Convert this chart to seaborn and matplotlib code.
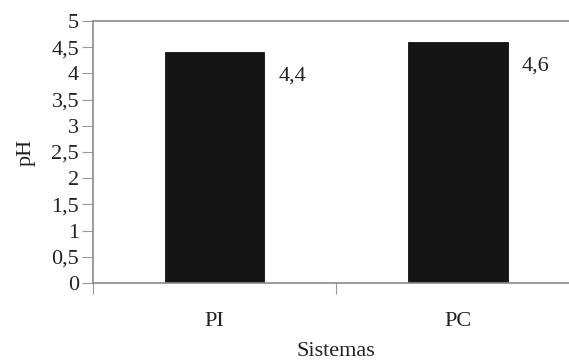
import matplotlib
matplotlib.use("Agg")
import matplotlib.pyplot as plt
import seaborn as sns
import numpy as np
import pandas as pd

sistemas = ["PI", "PC"]
ph = [4.4, 4.6]
yticks = [0, 0.5, 1, 1.5, 2, 2.5, 3, 3.5, 4, 4.5, 5]

sns.set_style("white")
plt.rcParams["font.family"] = ["Liberation Serif", "DejaVu Serif"]

FS = 16
TXT = "#222222"

fig = plt.figure(figsize=(5.69, 3.64), dpi=100)
ax = fig.add_axes([93 / 569, 1 - 283 / 364, 486.5 / 569, 262 / 364])

df = pd.DataFrame({"Sistemas": sistemas, "pH": ph})
sns.barplot(data=df, x="Sistemas", y="pH", color="#151515", saturation=1,
            width=0.41, edgecolor="#101010", linewidth=0.6, ax=ax)

ax.set_xlim(-0.5, 1.5)
ax.set_ylim(0, 5)
ax.set_yticks(yticks)
ax.set_yticklabels([f"{t:g}".replace(".", ",") for t in yticks])

# category labels without marks; small marks at the category boundaries
ax.set_xticks(range(len(sistemas)))
ax.set_xticklabels(sistemas)
ax.tick_params(axis="x", length=0, pad=21, labelsize=FS, colors=TXT)
ax.set_xticks([-0.5, 0.5, 1.5], minor=True)
ax.tick_params(axis="x", which="minor", length=8, width=0.8, color="#999999",
               direction="out", bottom=True)
ax.tick_params(axis="y", length=8, width=0.8, color="#999999", direction="out",
               left=True, labelsize=FS, labelcolor=TXT, pad=2)

for s in ["left", "top", "bottom", "right"]:
    ax.spines[s].set_color("#8a8a8a")
    ax.spines[s].set_linewidth(1.2)

ax.set_xlabel("Sistemas", fontsize=FS, color=TXT, labelpad=8)
ax.set_ylabel("pH", fontsize=FS, color=TXT, labelpad=11)

for i, v in enumerate(ph):
    ax.annotate(f"{v:g}".replace(".", ","), xy=(i + 0.205, v),
                xytext=(14, -24), textcoords="offset pixels",
                ha="left", va="center", fontsize=FS, color=TXT)

fig.savefig("out.png", dpi=100)
